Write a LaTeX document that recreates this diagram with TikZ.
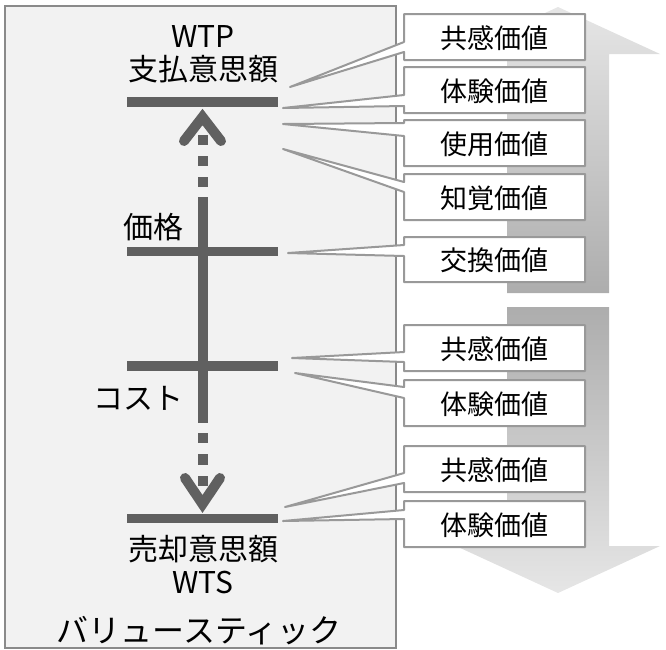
\documentclass[tikz,border=0pt]{standalone}
\usepackage{fontspec}
\newfontfamily\jp{Noto Sans CJK JP}
\definecolor{barc}{HTML}{606060}
\definecolor{edgec}{HTML}{999999}
\definecolor{panelc}{HTML}{F2F2F2}
\definecolor{panelb}{HTML}{8A8A8A}
\definecolor{arrlight}{HTML}{E6E6E6}
\definecolor{arrdark}{HTML}{ADADAD}
\tikzset{
  lbl/.style={font=\jp\fontsize{30}{36}\selectfont, anchor=base, inner sep=0pt, text=black},
  boxlbl/.style={font=\jp\fontsize{27}{32}\selectfont, anchor=base, inner sep=0pt, text=black},
  barline/.style={draw=barc, line width=9.5pt},
  axisline/.style={draw=barc, line width=10pt},
  chevron/.style={draw=barc, line width=10pt, line cap=round, line join=miter},
  callout/.style={draw=edgec, fill=white, line width=2pt, line join=round},
  panelbox/.style={draw=panelb, fill=panelc, line width=2pt}
}
\newcommand\mycallout[8]{%
  \path[callout] (404,#1) -- (585,#1) -- (585,#2) -- (404,#2) -- (404,#4) -- (#5,#6) -- (404,#3) -- cycle;
  \node[boxlbl] (#8) at (494.5,{(#1+#2)/2+11}) {#7};
}
\begin{document}
\begin{tikzpicture}[x=1pt,y=-1pt]
\useasboundingbox (0,0) rectangle (666,649);
% big arrows
\shade[top color=arrlight, bottom color=arrdark]
  (507,293) -- (507,54) -- (456,54) -- (558,7) -- (660,54) -- (609,54) -- (609,293) -- cycle;
\shade[top color=arrdark, bottom color=arrlight]
  (507,307) -- (609,307) -- (609,546) -- (660,546) -- (558,593) -- (456,546) -- (507,546) -- cycle;
% panel
\path[panelbox] (4.5,5.5) rectangle (395.5,647.5);
% bars
\draw[barline] (127,102) -- (278,102);
\draw[barline] (127,251.5) -- (278,251.5);
\draw[barline] (127,366) -- (278,366);
\draw[barline] (127,518.5) -- (278,518.5);
% axis
\draw[axisline] (202.5,197) -- (202.5,423);
\foreach \a/\b in {135/145,156/166,177/187,433/443,454/465,476/486}
  \draw[axisline] (202.5,\a) -- (202.5,\b);
\draw[chevron] (184,141) -- (202.5,117) -- (221,141);
\draw[chevron] (185,478) -- (202.5,504) -- (220,478);
% panel labels
\node[lbl] (wtp) at (203,47) {WTP};
\node[lbl] (wtpj) at (203,80) {支払意思額};
\node[lbl] (price) at (153,238) {価格};
\node[lbl] (cost) at (138,409) {コスト};
\node[lbl] (wtsj) at (203,560) {売却意思額};
\node[lbl] (wts) at (203,593) {WTS};
\node[lbl, font=\jp\fontsize{32}{38}\selectfont] (title) at (199,642) {バリュースティック};
% callouts
\mycallout{14}{60}{42}{52}{290}{87}{共感価値}{c1}
\mycallout{67}{113}{95}{106}{283}{108}{体験価値}{c2}
\mycallout{120}{166}{123}{136}{283}{124}{使用価値}{c3}
\mycallout{174}{220}{182}{192}{283}{149}{知覚価値}{c4}
\mycallout{237}{282}{245}{256}{288}{253}{交換価値}{c5}
\mycallout{325}{371}{352}{362}{292}{358}{共感価値}{c6}
\mycallout{380}{426}{387}{398}{295}{373}{体験価値}{c7}
\mycallout{446}{492}{473}{483}{285}{507}{共感価値}{c8}
\mycallout{501}{547}{510}{519}{283}{521}{体験価値}{c9}
\end{tikzpicture}
\end{document}
